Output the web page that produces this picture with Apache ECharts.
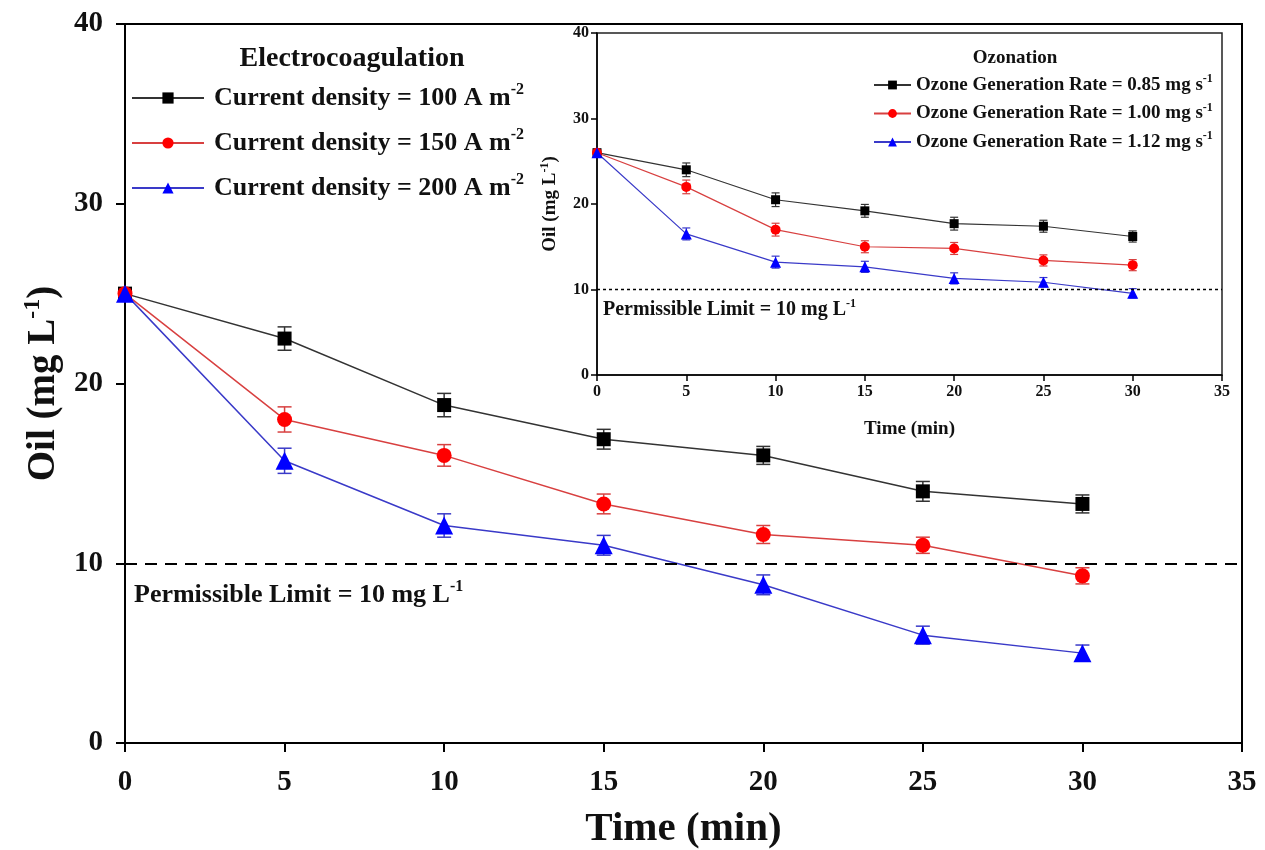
<!DOCTYPE html>
<html>
<head>
<meta charset="utf-8">
<script src="https://cdn.jsdelivr.net/npm/echarts@6/dist/echarts.min.js"></script>
<style>
  html, body { margin: 0; padding: 0; background: #fff; width: 1265px; height: 850px; overflow: hidden; }
  #chart { width: 1265px; height: 850px; }
</style>
</head>
<body>
<div id="chart"></div>
<script>
// Sampling times (min)
const timeMin = [0, 5, 10, 15, 20, 25, 30];

// Electrocoagulation: residual oil (mg/L) at three current densities
const ecCd100 = [25.0, 22.5, 18.8, 16.9, 16.0, 14.0, 13.3];
const ecCd150 = [25.0, 18.0, 16.0, 13.3, 11.6, 11.0, 9.3];
const ecCd200 = [25.0, 15.7, 12.1, 11.0, 8.8, 6.0, 5.0];
const ecErr100 = [0, 0.65, 0.65, 0.55, 0.5, 0.55, 0.5];
const ecErr150 = [0, 0.7, 0.6, 0.55, 0.5, 0.45, 0.45];
const ecErr200 = [0, 0.7, 0.65, 0.55, 0.55, 0.5, 0.45];

// Ozonation: residual oil (mg/L) at three ozone generation rates
const oz085 = [26.0, 24.0, 20.5, 19.2, 17.7, 17.4, 16.2];
const oz100 = [26.0, 22.0, 17.0, 15.0, 14.8, 13.4, 12.85];
const oz112 = [26.0, 16.5, 13.2, 12.65, 11.3, 10.85, 9.55];
const ozErr085 = [0, 0.8, 0.8, 0.75, 0.75, 0.7, 0.65];
const ozErr100 = [0, 0.8, 0.75, 0.7, 0.7, 0.65, 0.65];
const ozErr112 = [0, 0.7, 0.7, 0.65, 0.65, 0.55, 0.55];

const limitValue = 10;

const ecNames = ['Current density = 100 A m', 'Current density = 150 A m', 'Current density = 200 A m'];
const ozNames = ['Ozone Generation Rate = 0.85 mg s', 'Ozone Generation Rate = 1.00 mg s', 'Ozone Generation Rate = 1.12 mg s'];
const ecSup = '-2';
const ozSup = '-1';

const FONT = '"Liberation Serif", "Times New Roman", serif';
const colors = ['#000000', '#ff0000', '#0000ff'];
const lineColors = ['#333333', '#d84040', '#3a3ac8'];
const symbols = ['rect', 'circle', 'triangle'];

function pairs(ys) { return timeMin.map((t, i) => [t, ys[i]]); }
function errRows(ys, es) { return timeMin.map((t, i) => [t, ys[i] - es[i], ys[i] + es[i]]); }

function errorSeries(ys, es, color, xi, cap, width) {
  return {
    type: 'custom',
    xAxisIndex: xi, yAxisIndex: xi,
    data: errRows(ys, es),
    encode: { x: 0, y: [1, 2] },
    silent: true,
    z: 3,
    renderItem: function (params, api) {
      const x = api.value(0), lo = api.value(1), hi = api.value(2);
      if (hi - lo <= 0) return null;
      const top = api.coord([x, hi]);
      const bot = api.coord([x, lo]);
      const st = { stroke: color, lineWidth: width };
      return {
        type: 'group',
        children: [
          { type: 'line', shape: { x1: top[0], y1: top[1], x2: bot[0], y2: bot[1] }, style: st },
          { type: 'line', shape: { x1: top[0] - cap, y1: top[1], x2: top[0] + cap, y2: top[1] }, style: st },
          { type: 'line', shape: { x1: bot[0] - cap, y1: bot[1], x2: bot[0] + cap, y2: bot[1] }, style: st }
        ]
      };
    }
  };
}

function lineSeries(name, ys, idx, xi, symSize, lw) {
  return {
    type: 'line',
    name: name,
    xAxisIndex: xi, yAxisIndex: xi,
    data: pairs(ys),
    symbol: symbols[idx],
    symbolSize: symSize[idx],
    showAllSymbol: true,
    itemStyle: { color: colors[idx] },
    lineStyle: { color: lineColors[idx], width: lw },
    z: 4
  };
}

const ecSeries = [ecCd100, ecCd150, ecCd200];
const ecErrs = [ecErr100, ecErr150, ecErr200];
const ozSeries = [oz085, oz100, oz112];
const ozErrs = [ozErr085, ozErr100, ozErr112];

const series = [];
ecSeries.forEach((ys, i) => {
  series.push(errorSeries(ys, ecErrs[i], lineColors[i], 0, 7, 1.5));
  series.push(lineSeries(ecNames[i], ys, i, 0, [14, 15, 18], 1.5));
});
ozSeries.forEach((ys, i) => {
  series.push(errorSeries(ys, ozErrs[i], lineColors[i], 1, 4, 1.2));
  series.push(lineSeries(ozNames[i], ys, i, 1, [9, 10, 11], 1.2));
});

// Permissible-limit reference lines
series.push({
  type: 'line', xAxisIndex: 0, yAxisIndex: 0, data: [], silent: true,
  markLine: {
    symbol: 'none', silent: true,
    lineStyle: { color: '#000', type: [12, 8], width: 2 },
    label: {
      position: 'insideStartBottom', distance: [9, 16],
      formatter: '{a|Permissible Limit = 10 mg L}{s|-1}',
      rich: {
        a: { fontFamily: FONT, fontWeight: 'bold', fontSize: 26, color: '#111', lineHeight: 32 },
        s: { fontFamily: FONT, fontWeight: 'bold', fontSize: 16, color: '#111', verticalAlign: 'top', lineHeight: 16 }
      }
    },
    data: [{ yAxis: limitValue }]
  }
});
series.push({
  type: 'line', xAxisIndex: 1, yAxisIndex: 1, data: [], silent: true,
  markLine: {
    symbol: 'none', silent: true,
    lineStyle: { color: '#000', type: [3, 3], width: 1.3 },
    label: {
      position: 'insideStartBottom', distance: [6, 8],
      formatter: '{a|Permissible Limit = 10 mg L}{s|-1}',
      rich: {
        a: { fontFamily: FONT, fontWeight: 'bold', fontSize: 20, color: '#111', lineHeight: 24 },
        s: { fontFamily: FONT, fontWeight: 'bold', fontSize: 12, color: '#111', verticalAlign: 'top', lineHeight: 12 }
      }
    },
    data: [{ yAxis: limitValue }]
  }
});

function axisCommon(big) {
  return {
    type: 'value', min: 0, max: 40, interval: 10,
    axisLine: { show: true, lineStyle: { color: '#000', width: big ? 2 : 1.5 } },
    axisTick: { show: true, inside: false, length: big ? 9 : 6, lineStyle: { color: '#000', width: big ? 2 : 1.5 } },
    splitLine: { show: false }
  };
}

const option = {
  backgroundColor: '#ffffff',
  animation: false,
  title: [
    { text: 'Electrocoagulation', left: 347, top: 40, textAlign: 'center',
      textStyle: { fontFamily: FONT, fontWeight: 'bold', fontSize: 28, color: '#111' } },
    { text: 'Ozonation', left: 1010, top: 44, textAlign: 'center',
      textStyle: { fontFamily: FONT, fontWeight: 'bold', fontSize: 19, color: '#111' } }
  ],
  legend: [
    {
      data: ecNames, orient: 'vertical', left: 126, top: 77,
      itemWidth: 72, itemHeight: 14, itemGap: 16, selectedMode: false,
      formatter: n => '{a|' + n + '}{s|' + ecSup + '}',
      textStyle: {
        rich: {
          a: { fontFamily: FONT, fontWeight: 'bold', fontSize: 26, color: '#111', lineHeight: 32, padding: [0, 0, 0, 5] },
          s: { fontFamily: FONT, fontWeight: 'bold', fontSize: 16, color: '#111', verticalAlign: 'top', lineHeight: 16 }
        }
      }
    },
    {
      data: ozNames, orient: 'vertical', left: 868, top: 68,
      itemWidth: 37, itemHeight: 11, itemGap: 7, selectedMode: false,
      formatter: n => '{a|' + n + '}{s|' + ozSup + '}',
      textStyle: {
        rich: {
          a: { fontFamily: FONT, fontWeight: 'bold', fontSize: 19, color: '#111', lineHeight: 24 },
          s: { fontFamily: FONT, fontWeight: 'bold', fontSize: 12, color: '#111', verticalAlign: 'top', lineHeight: 12 }
        }
      }
    }
  ],
  grid: [
    { left: 125, top: 24, width: 1117, height: 719, outerBoundsMode: 'none', containLabel: false,
      show: true, borderColor: '#000', borderWidth: 2, backgroundColor: 'transparent' },
    { left: 597, top: 33, width: 625, height: 342, outerBoundsMode: 'none', containLabel: false,
      show: true, borderColor: '#222', borderWidth: 1.5, backgroundColor: '#ffffff' }
  ],
  xAxis: [
    Object.assign(axisCommon(true), {
      gridIndex: 0, min: 0, max: 35, interval: 5,
      name: 'Time (min)', nameLocation: 'middle', nameGap: 66,
      nameTextStyle: { fontFamily: FONT, fontWeight: 'bold', fontSize: 41, color: '#111' },
      axisLabel: { margin: 25, fontFamily: FONT, fontWeight: 'bold', fontSize: 29, color: '#111' }
    }),
    Object.assign(axisCommon(false), {
      gridIndex: 1, min: 0, max: 35, interval: 5,
      name: 'Time (min)', nameLocation: 'middle', nameGap: 45,
      nameTextStyle: { fontFamily: FONT, fontWeight: 'bold', fontSize: 19, color: '#111' },
      axisLabel: { margin: 9, fontFamily: FONT, fontWeight: 'bold', fontSize: 16, color: '#111' }
    })
  ],
  yAxis: [
    Object.assign(axisCommon(true), {
      gridIndex: 0,
      name: '{a|Oil (mg L}{s|-1}{a|)}', nameLocation: 'middle', nameGap: 47, nameRotate: 90,
      nameTextStyle: {
        rich: {
          a: { fontFamily: FONT, fontWeight: 'bold', fontSize: 39, color: '#111', lineHeight: 46 },
          s: { fontFamily: FONT, fontWeight: 'bold', fontSize: 24, color: '#111', verticalAlign: 'top', lineHeight: 24 }
        }
      },
      axisLabel: { margin: 22, fontFamily: FONT, fontWeight: 'bold', fontSize: 29, color: '#111' }
    }),
    Object.assign(axisCommon(false), {
      gridIndex: 1,
      name: '{a|Oil (mg L}{s|-1}{a|)}', nameLocation: 'middle', nameGap: 36, nameRotate: 90,
      nameTextStyle: {
        rich: {
          a: { fontFamily: FONT, fontWeight: 'bold', fontSize: 19, color: '#111', lineHeight: 22 },
          s: { fontFamily: FONT, fontWeight: 'bold', fontSize: 12, color: '#111', verticalAlign: 'top', lineHeight: 12 }
        }
      },
      axisLabel: { margin: 8, fontFamily: FONT, fontWeight: 'bold', fontSize: 16, color: '#111' }
    })
  ],
  series: series
};

const chart = echarts.init(document.getElementById('chart'), null, { renderer: 'canvas' });
chart.setOption(option);
</script>
</body>
</html>
